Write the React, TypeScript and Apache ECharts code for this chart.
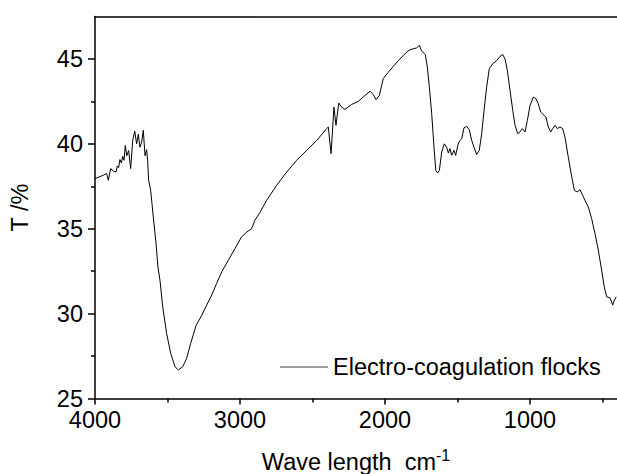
import React, { useEffect, useRef } from "react";
import * as echarts from "echarts";

const wavenumbers = [
  4000, 3943, 3920, 3908, 3892, 3874, 3855, 3846, 3837, 3828,
  3818, 3809, 3800, 3791, 3781, 3768, 3754, 3740, 3726, 3713,
  3701, 3690, 3678, 3667, 3655, 3644, 3637, 3630, 3616, 3598,
  3579, 3566, 3552, 3533, 3506, 3478, 3448, 3425, 3395, 3368,
  3340, 3303, 3264, 3230, 3195, 3161, 3126, 3080, 3034, 2989,
  2954, 2920, 2897, 2862, 2816, 2747, 2678, 2609, 2540, 2471,
  2402, 2391, 2372, 2352, 2338, 2319, 2299, 2276, 2230, 2184,
  2138, 2103, 2081, 2062, 2039, 2012, 1977, 1943, 1908, 1874,
  1851, 1828, 1805, 1782, 1763, 1747, 1731, 1722, 1708, 1694,
  1678, 1662, 1650, 1637, 1625, 1609, 1591, 1575, 1563, 1552,
  1540, 1524, 1513, 1495, 1483, 1471, 1455, 1437, 1419, 1402,
  1386, 1368, 1350, 1333, 1317, 1299, 1281, 1257, 1230, 1207,
  1188, 1172, 1156, 1138, 1119, 1103, 1085, 1069, 1053, 1034,
  1018, 1000, 977, 959, 943, 926, 903, 890, 874, 857,
  843, 828, 812, 793, 775, 759, 736, 712, 694, 674,
  655, 637, 616, 598, 575, 552, 529, 506, 488, 471,
  448, 429, 420, 406,
];

const transmittance = [
  37.95, 38.15, 38.25, 37.85, 38.54, 38.4, 38.34, 38.7, 38.6, 39.07,
  38.87, 39.26, 39.03, 39.9, 39.3, 39.6, 38.54, 40.2, 40.75, 40.0,
  40.56, 39.8, 40.1, 40.8, 39.3, 39.66, 39.03, 37.85, 37.26, 35.7,
  34.13, 32.75, 31.97, 30.4, 28.83, 27.66, 26.87, 26.68, 26.87, 27.36,
  28.25, 29.3, 29.9, 30.5, 31.09, 31.78, 32.46, 33.15, 33.84, 34.52,
  34.8, 35.0, 35.5, 35.96, 36.68, 37.56, 38.34, 39.03, 39.62, 40.2,
  40.9, 40.99, 39.42, 42.16, 41.09, 42.4, 42.16, 42.03, 42.32, 42.5,
  42.85, 43.1, 42.9, 42.6, 42.85, 43.84, 44.22, 44.56, 44.9, 45.2,
  45.4, 45.54, 45.6, 45.65, 45.8, 45.46, 45.34, 45.26, 44.52, 43.34,
  41.78, 39.8, 38.44, 38.28, 38.44, 39.52, 40.0, 39.8, 39.46, 39.72,
  39.32, 39.62, 39.32, 40.0, 40.2, 40.3, 40.95, 41.03, 40.83, 40.2,
  39.8, 39.38, 39.62, 40.6, 41.97, 43.34, 44.42, 44.72, 44.9, 45.15,
  45.26, 45.0, 44.32, 43.15, 41.97, 41.09, 40.6, 40.7, 40.9, 40.7,
  41.38, 42.26, 42.75, 42.66, 42.36, 41.87, 41.68, 41.58, 40.99, 40.7,
  40.9, 41.09, 40.9, 40.99, 40.9, 40.4, 39.22, 38.05, 37.26, 37.17,
  37.3, 36.97, 36.58, 36.28, 35.6, 34.72, 33.74, 32.56, 31.58, 30.99,
  30.93, 30.5, 30.75, 30.99,
];

const xMajorTicks = [1000, 2000, 3000, 4000];
const xMinorTicks = [500, 1500, 2500, 3500];
const yMajorTicks = [25, 30, 35, 40, 45];
const yMinorTicks = [27.5, 32.5, 37.5, 42.5];
const xRange = [400, 4000];
const yRange = [25, 47.5];
const seriesName = "Electro-coagulation flocks";
const xTitle = "Wave length  cm";
const xTitleSup = "-1";
const yTitle = "T /%";

const FONT = "'Liberation Sans', Arial, Helvetica, sans-serif";
const FS = 23.5;
const AXIS_COLOR = "#000";

export default function App() {
  const ref = useRef<HTMLDivElement>(null);

  useEffect(() => {
    document.body.style.margin = "0";
    if (!ref.current) return;
    const chart = echarts.init(ref.current, null, { renderer: "svg" });

    const data = wavenumbers.map((w, i) => [w, transmittance[i]]);
    const lineStyle = { color: AXIS_COLOR, width: 1.5 };
    const plain = (v: number) => String(v);

    chart.setOption({
      animation: false,
      backgroundColor: "#fff",
      textStyle: { fontFamily: FONT },
      grid: {
        left: 95,
        right: 0,
        top: 16.5,
        bottom: 75.5,
        containLabel: false,
        outerBoundsMode: "none",
      },
      legend: {
        show: true,
        data: [seriesName],
        left: 280,
        top: 355,
        padding: 0,
        icon: "rect",
        itemWidth: 48,
        itemHeight: 1.5,
        itemStyle: { color: "#7f7f7f" },
        textStyle: { fontSize: FS, color: "#000", fontFamily: FONT },
      },
      xAxis: [
        {
          type: "value",
          inverse: true,
          min: xRange[0],
          max: xRange[1],
          position: "bottom",
          axisLine: { show: true, lineStyle },
          axisTick: { show: true, customValues: xMajorTicks, length: 6, inside: false, lineStyle },
          axisLabel: {
            show: true,
            customValues: xMajorTicks,
            formatter: plain,
            fontSize: FS,
            color: "#000",
            margin: 9,
            fontFamily: FONT,
          },
          splitLine: { show: false },
          name: `{main|${xTitle}}{sup|${xTitleSup}}`,
          nameLocation: "middle",
          nameGap: 49,
          nameTextStyle: {
            rich: {
              main: { fontSize: FS, color: "#000", fontFamily: FONT, verticalAlign: "bottom", lineHeight: 26 },
              sup: { fontSize: 16, color: "#000", fontFamily: FONT, verticalAlign: "top", lineHeight: 16 },
            },
          },
        },
        {
          type: "value",
          inverse: true,
          min: xRange[0],
          max: xRange[1],
          position: "bottom",
          axisLine: { show: false },
          axisTick: { show: true, customValues: xMinorTicks, length: 4, inside: false, lineStyle },
          axisLabel: { show: false },
          splitLine: { show: false },
        },
        {
          type: "value",
          inverse: true,
          min: xRange[0],
          max: xRange[1],
          position: "top",
          axisLine: { show: true, lineStyle },
          axisTick: { show: false },
          axisLabel: { show: false },
          splitLine: { show: false },
        },
      ],
      yAxis: [
        {
          type: "value",
          min: yRange[0],
          max: yRange[1],
          position: "left",
          axisLine: { show: true, lineStyle },
          axisTick: { show: true, customValues: yMajorTicks, length: 7, inside: false, lineStyle },
          axisLabel: {
            show: true,
            customValues: yMajorTicks,
            formatter: plain,
            fontSize: FS,
            color: "#000",
            margin: 12,
            fontFamily: FONT,
          },
          splitLine: { show: false },
          name: yTitle,
          nameLocation: "middle",
          nameRotate: 90,
          nameGap: 63,
          nameTextStyle: { fontSize: FS, color: "#000", fontFamily: FONT },
        },
        {
          type: "value",
          min: yRange[0],
          max: yRange[1],
          position: "left",
          axisLine: { show: false },
          axisTick: { show: true, customValues: yMinorTicks, length: 4, inside: false, lineStyle },
          axisLabel: { show: false },
          splitLine: { show: false },
        },
      ],
      series: [
        {
          name: seriesName,
          type: "line",
          xAxisIndex: 0,
          yAxisIndex: 0,
          data,
          showSymbol: false,
          symbol: "none",
          lineStyle: { color: "#000", width: 1 },
          itemStyle: { color: "#000" },
          clip: true,
        },
      ],
    });

    return () => {
      chart.dispose();
    };
  }, []);

  return <div ref={ref} style={{ width: 617, height: 474 }} />;
}
